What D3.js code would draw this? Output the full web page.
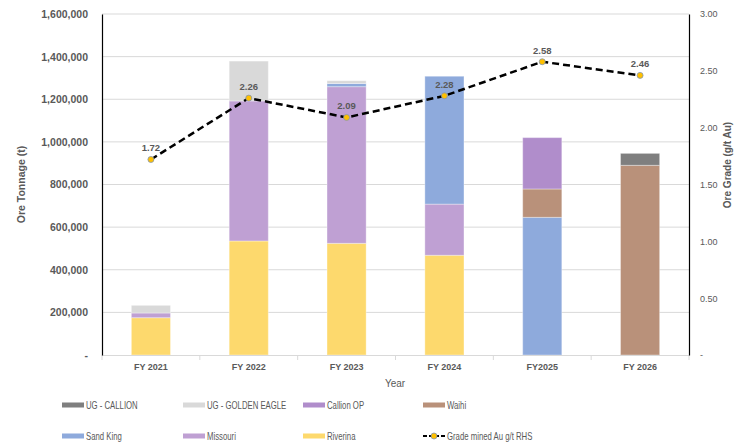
<!DOCTYPE html>
<html>
<head>
<meta charset="utf-8">
<script src="https://cdn.jsdelivr.net/npm/d3@7"></script>
<style>
   body { margin: 0; background: #ffffff; }
   #chartDiv { width: 736px; height: 442px; }
   text { font-family: "Liberation Sans", Arial, sans-serif; }
</style>
</head>
<body>
<div id="chartDiv"></div>
<script>
//----------------------------------------------------------------------------------------------------
var years       = ["FY 2021", "FY 2022", "FY 2023", "FY 2024", "FY2025", "FY 2026"];

var riverina    = [175000, 535000, 524000, 468000,      0,      0];
var missouri    = [ 22000, 657000, 735000, 240000,      0,      0];
var sandKing    = [     0,      0,  15000, 600000, 646000,      0];
var waihi       = [     0,      0,      0,      0, 133000, 890000];
var callionOP   = [     0,      0,      0,      0, 241000,      0];
var goldenEagle = [ 36000, 187000,  13000,      0,      0,      0];
var ugCallion   = [     0,      0,      0,      0,      0,  56000];

var grade       = [1.72, 2.26, 2.09, 2.28, 2.58, 2.46];

var leftTicks   = [0, 200000, 400000, 600000, 800000, 1000000, 1200000, 1400000, 1600000];
var rightTicks  = [0, 0.5, 1.0, 1.5, 2.0, 2.5, 3.0];

   // stacking order, bottom to top
var seriesNames = ["Riverina", "Missouri", "Sand King", "Waihi", "Callion OP",
                   "UG - GOLDEN EAGLE", "UG - CALLION"];
var seriesData  = [riverina, missouri, sandKing, waihi, callionOP, goldenEagle, ugCallion];
var seriesColors = ["#fdd96d", "#bfa0d3", "#8eaadc", "#b9917a", "#b08dcb", "#d9d9d9", "#7f7f7f"];

   // legend order, as Excel lays it out
var legendOrder = ["UG - CALLION", "UG - GOLDEN EAGLE", "Callion OP", "Waihi",
                   "Sand King", "Missouri", "Riverina"];
var lineLabel   = "Grade mined Au g/t RHS";

//----------------------------------------------------------------------------------------------------
function drawChart()
{
   var width = 736, height = 442;
   var left = 102, right = 689, top = 14, bottom = 355;
   var textGray = "#595959";

   var svg = d3.select("#chartDiv")
      .append("svg")
      .attr("width", width)
      .attr("height", height);

   var xScale = d3.scaleBand()
      .domain(years)
      .range([left, right])
      .paddingInner(0.6)
      .paddingOuter(0.3);

   var yScale = d3.scaleLinear()
      .domain([0, 1600000])
      .range([bottom, top]);

   var y2Scale = d3.scaleLinear()
      .domain([0, 3])
      .range([bottom, top]);

      // gridlines
   svg.append("g")
      .selectAll("line")
      .data(leftTicks.slice(1))
      .enter()
      .append("line")
      .attr("x1", left).attr("x2", right)
      .attr("y1", function(d){ return yScale(d); })
      .attr("y2", function(d){ return yScale(d); })
      .attr("stroke", "#d9d9d9")
      .attr("stroke-width", 1);

      // stacked bars
   var table = years.map(function(y, i){
      var row = {year: y};
      seriesNames.forEach(function(name, s){ row[name] = seriesData[s][i]; });
      return row;
      });

   var stack = d3.stack().keys(seriesNames)(table);

   svg.append("g")
      .selectAll("g")
      .data(stack)
      .enter()
      .append("g")
      .attr("fill", function(d, i){ return seriesColors[i]; })
      .selectAll("rect")
      .data(function(d){ return d.filter(function(p){ return p[1] > p[0]; }); })
      .enter()
      .append("rect")
      .attr("x", function(d){ return xScale(d.data.year); })
      .attr("width", xScale.bandwidth())
      .attr("y", function(d){ return yScale(d[1]); })
      .attr("height", function(d){ return yScale(d[0]) - yScale(d[1]); })
      .attr("stroke", "#ffffff")
      .attr("stroke-opacity", 0.35)
      .attr("stroke-width", 1);

      // bottom axis: light line with ticks between categories
   var xAxis = d3.axisBottom(xScale).tickSize(0).tickPadding(9);
   var gx = svg.append("g")
      .attr("transform", "translate(0," + bottom + ")")
      .call(xAxis);
   gx.select(".domain").attr("stroke", "#d9d9d9");
   gx.selectAll("text")
      .attr("fill", textGray)
      .style("font-size", "9px")
      .style("font-weight", "bold");

   var step = xScale.step();
   var bounds = d3.range(years.length + 1).map(function(i){ return left + i * step; });
   svg.append("g")
      .selectAll("line")
      .data(bounds)
      .enter()
      .append("line")
      .attr("x1", function(d){ return d; }).attr("x2", function(d){ return d; })
      .attr("y1", bottom).attr("y2", bottom + 5)
      .attr("stroke", "#d9d9d9");

      // left axis
   var yAxis = d3.axisLeft(yScale)
      .tickValues(leftTicks)
      .tickSize(0)
      .tickPadding(14)
      .tickFormat(function(d){ return d == 0 ? "-" : d3.format(",")(d); });
   var gy = svg.append("g")
      .attr("transform", "translate(" + left + ",0)")
      .call(yAxis);
   gy.select(".domain").attr("stroke", "#000000").attr("stroke-width", 1.2);
   gy.selectAll("text")
      .attr("fill", textGray)
      .style("font-size", "10.5px")
      .style("font-weight", "bold");

      // right axis
   var y2Axis = d3.axisRight(y2Scale)
      .tickValues(rightTicks)
      .tickSize(0)
      .tickPadding(11)
      .tickFormat(function(d){ return d == 0 ? "-" : d3.format(".2f")(d); });
   var gy2 = svg.append("g")
      .attr("transform", "translate(" + right + ",0)")
      .call(y2Axis);
   gy2.select(".domain").attr("stroke", "#000000").attr("stroke-width", 1.2);
   gy2.selectAll("text")
      .attr("fill", textGray)
      .style("font-size", "9px");

      // axis titles
   svg.append("text")
      .attr("transform", "translate(25," + ((top + bottom) / 2) + ") rotate(-90)")
      .attr("text-anchor", "middle")
      .attr("fill", textGray)
      .style("font-size", "10.5px")
      .style("font-weight", "bold")
      .text("Ore Tonnage (t)");

      // in the original this title runs off the right edge; keep it just inside
   svg.append("text")
      .attr("transform", "translate(731,165) rotate(-90)")
      .attr("text-anchor", "middle")
      .attr("fill", textGray)
      .style("font-size", "10px")
      .style("font-weight", "bold")
      .text("Ore Grade  (g/t Au)");

   svg.append("text")
      .attr("x", 395).attr("y", 387)
      .attr("text-anchor", "middle")
      .attr("fill", textGray)
      .style("font-size", "10px")
      .text("Year");

      // grade line
   var line = d3.line()
      .x(function(d, i){ return xScale(years[i]) + xScale.bandwidth() / 2; })
      .y(function(d){ return y2Scale(d); });

   svg.append("path")
      .datum(grade)
      .attr("d", line)
      .attr("fill", "none")
      .attr("stroke", "#000000")
      .attr("stroke-width", 2.5)
      .attr("stroke-dasharray", "7,4");

   svg.append("g")
      .selectAll("circle")
      .data(grade)
      .enter()
      .append("circle")
      .attr("cx", function(d, i){ return xScale(years[i]) + xScale.bandwidth() / 2; })
      .attr("cy", function(d){ return y2Scale(d); })
      .attr("r", 3)
      .attr("fill", "#ffc000")
      .attr("stroke", "#8497b0")
      .attr("stroke-width", 0.8);

   svg.append("g")
      .selectAll("text")
      .data(grade)
      .enter()
      .append("text")
      .attr("x", function(d, i){ return xScale(years[i]) + xScale.bandwidth() / 2; })
      .attr("y", function(d){ return y2Scale(d) - 8; })
      .attr("text-anchor", "middle")
      .attr("fill", textGray)
      .style("font-size", "9.5px")
      .style("font-weight", "bold")
      .text(function(d){ return d3.format(".2f")(d); });

   drawLegend(svg, textGray);

} // drawChart
//----------------------------------------------------------------------------------------------------
function drawLegend(svg, textGray)
{
   var colX = [62, 183, 303, 423];
   var rowY = [405, 436];

   var items = legendOrder.map(function(name){ return {name: name, line: false}; });
   items.push({name: lineLabel, line: true});

   var g = svg.append("g");

   items.forEach(function(item, i){
      var x = colX[i % 4];
      var y = rowY[Math.floor(i / 4)];
      if(item.line){
         g.append("line")
          .attr("x1", x).attr("x2", x + 22)
          .attr("y1", y).attr("y2", y)
          .attr("stroke", "#000000")
          .attr("stroke-width", 2)
          .attr("stroke-dasharray", "4,2");
         g.append("circle")
          .attr("cx", x + 11).attr("cy", y).attr("r", 3)
          .attr("fill", "#ffc000")
          .attr("stroke", "#8497b0")
          .attr("stroke-width", 0.8);
         }
      else {
         var s = seriesNames.indexOf(item.name);
         g.append("rect")
          .attr("x", x).attr("y", y - 2.5)
          .attr("width", 22).attr("height", 5)
          .attr("fill", seriesColors[s]);
         }
         // squeeze horizontally, the original uses a much narrower font
      g.append("text")
       .attr("transform", "translate(" + (x + 24) + "," + y + ") scale(0.74,1)")
       .attr("dy", "0.35em")
       .attr("fill", textGray)
       .style("font-size", "10.5px")
       .text(item.name);
      });

} // drawLegend
//----------------------------------------------------------------------------------------------------
drawChart();
</script>
</body>
</html>
